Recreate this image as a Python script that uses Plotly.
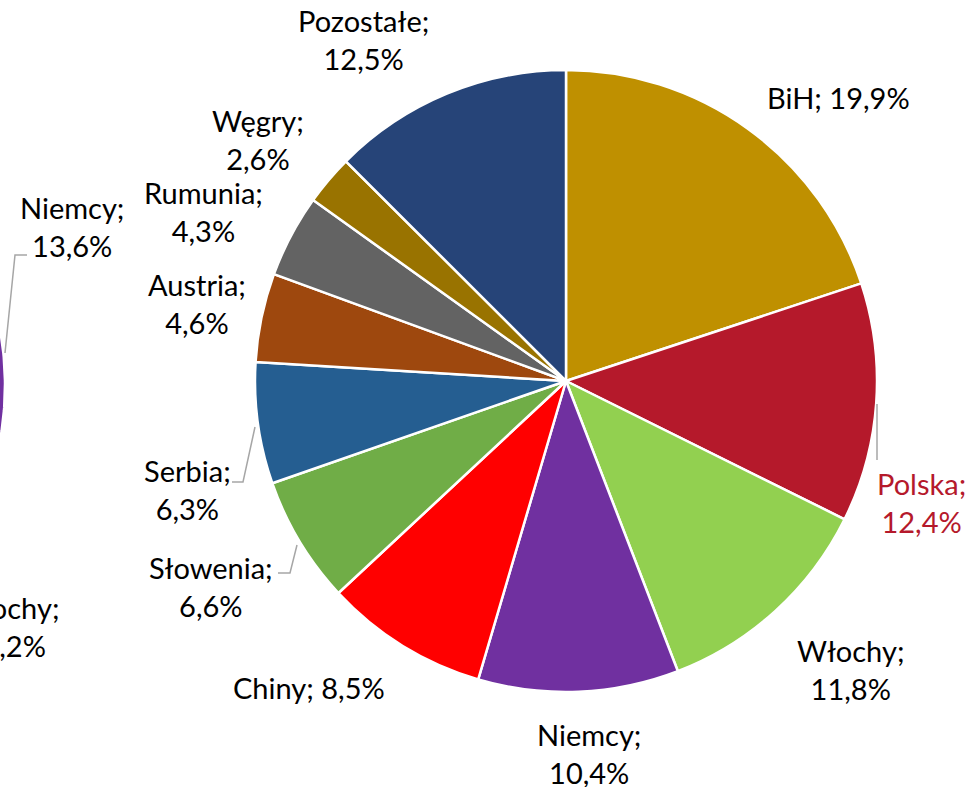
import numpy as np
import plotly.graph_objects as go

# main pie
countries = ["BiH", "Polska", "Włochy", "Niemcy", "Chiny", "Słowenia", "Serbia",
             "Austria", "Rumunia", "Węgry", "Pozostałe"]
shares = [19.9, 12.4, 11.8, 10.4, 8.5, 6.6, 6.3, 4.6, 4.3, 2.6, 12.5]
colors = ["#BF9000", "#B5192B", "#92D050", "#7030A0", "#FF0000", "#70AD47",
          "#255E91", "#9E480E", "#636363", "#997300", "#264478"]

# neighbouring pie, only its edge shows at the left border
left_labels = ["Niemcy", "Włochy"]
left_shares = [13.6, 11.2]

W, H = 971, 787
CX, CY, R = 566, 381, 311
LCX, LCY = -306, 385
LEFT_START = 60  # deg, clockwise from 12 o'clock

# label centres (px, y down) and line breaks
label_pos = {
    "BiH": (838, 97, False), "Polska": (921, 502, True), "Włochy": (850, 669, True),
    "Niemcy": (589, 753, True), "Chiny": (309, 687, False), "Słowenia": (211, 586, True),
    "Serbia": (187, 489, True), "Austria": (197, 303, True), "Rumunia": (203, 211, True),
    "Węgry": (258, 139, True), "Pozostałe": (363, 39, True),
}
left_label_pos = {"Niemcy": (72, 226), "Włochy": (5, 626)}

FONT = "Lato, 'Open Sans', sans-serif"
FONT_SIZE = 29


def fmt(v):
    return f"{v:.1f}".replace(".", ",") + "%"


fig = go.Figure()

fig.add_trace(go.Pie(
    labels=countries,
    values=shares,
    sort=False,
    direction="clockwise",
    rotation=0,
    textinfo="none",
    hoverinfo="label+percent",
    marker=dict(colors=colors, line=dict(color="white", width=2.5)),
    domain=dict(x=[(CX - R) / W, (CX + R) / W], y=[1 - (CY + R) / H, 1 - (CY - R) / H]),
    showlegend=False,
))

# left pie slice drawn on a pixel-space axis so the canvas edge clips it
span = left_shares[0] / 100 * 360
theta = np.radians(np.linspace(LEFT_START, LEFT_START + span, 80))
xs = np.concatenate([[LCX], LCX + R * np.sin(theta), [LCX]])
ys = np.concatenate([[LCY], LCY - R * np.cos(theta), [LCY]])
fig.add_trace(go.Scatter(
    x=xs, y=ys, mode="lines", fill="toself", fillcolor="#7030A0",
    line=dict(color="white", width=2.5), hoverinfo="skip", showlegend=False,
))

annotations = []
for name, val in zip(countries, shares):
    x, y, wrap = label_pos[name]
    sep = ";<br>" if wrap else "; "
    color = "#B5192B" if name == "Polska" else "#000000"
    annotations.append(dict(
        x=x, y=y, xref="x", yref="y", text=name + sep + fmt(val), showarrow=False,
        font=dict(family=FONT, size=FONT_SIZE, color=color), align="center",
        xanchor="center", yanchor="middle",
    ))
for name, val in zip(left_labels, left_shares):
    x, y = left_label_pos[name]
    annotations.append(dict(
        x=x, y=y, xref="x", yref="y", text=name + ";<br>" + fmt(val), showarrow=False,
        font=dict(family=FONT, size=FONT_SIZE, color="#000000"), align="center",
        xanchor="center", yanchor="middle",
    ))

leader = dict(color="#A6A6A6", width=1.5)
paths = [
    "M 877 404 L 877 460",
    "M 255 427 L 243 482 L 232 482",
    "M 297 545 L 290 573 L 278 573",
    "M 5 353 L 15 255 L 27 255",
]
shapes = [dict(type="path", path=p, xref="x", yref="y", line=leader, layer="above")
          for p in paths]

fig.update_layout(
    width=W, height=H,
    margin=dict(l=0, r=0, t=0, b=0),
    paper_bgcolor="white", plot_bgcolor="rgba(0,0,0,0)",
    xaxis=dict(range=[0, W], visible=False, fixedrange=True),
    yaxis=dict(range=[H, 0], visible=False, fixedrange=True),
    annotations=annotations,
    shapes=shapes,
)

# drop the browser's default body margin so the chart sits at the page corner
fig.write_html("out.html", config={"displayModeBar": False},
               post_script="document.body.style.margin='0';")
